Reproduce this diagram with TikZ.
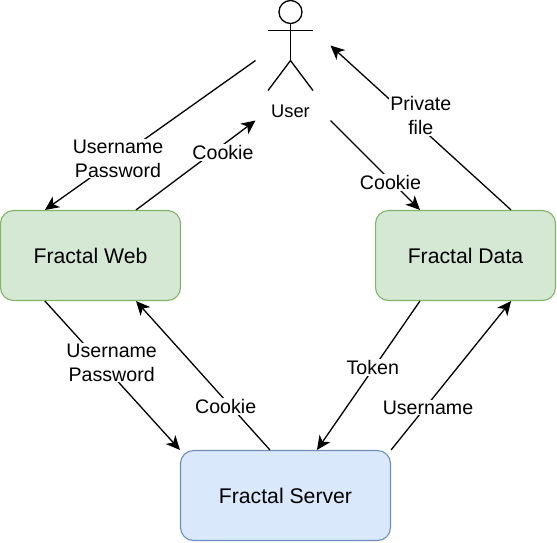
\documentclass[tikz,border=0pt]{standalone}
\usepackage{fontspec}
\setmainfont{Liberation Sans}
\usetikzlibrary{arrows.meta}
\definecolor{greenfill}{HTML}{D5E8D4}
\definecolor{greenline}{HTML}{82B366}
\definecolor{bluefill}{HTML}{DAE8FC}
\definecolor{blueline}{HTML}{6C8EBF}
\tikzset{
  flow/.style={line width=1.3pt, -{Stealth[length=14pt,width=13pt,inset=4pt]}},
  greenbox/.style={draw=greenline, fill=greenfill, line width=1.1pt, rounded corners=13pt, minimum width=180pt, minimum height=90pt, inner sep=0pt, font=\fontsize{21.2}{25}\selectfont},
  bluebox/.style={greenbox, draw=blueline, fill=bluefill, minimum width=210pt},
  lbl/.style={fill=white, inner sep=1pt, align=center, font=\fontsize{19.6}{23.7}\selectfont},
  actorline/.style={line width=1.3pt}
}

\begin{document}
\begin{tikzpicture}[x=1pt,y=-1pt]
\useasboundingbox (0,0) rectangle (557,542);

% boxes
\node [greenbox] (web) at (90.5,255.5) {Fractal Web};
\node [greenbox] (data) at (465.5,255.5) {Fractal Data};
\node [bluebox] (server) at (285.5,495.5) {Fractal Server};

% user
\draw [actorline] (290.5,12) circle [radius=11.5];
\draw [actorline] (290.5,23.5) -- (290.5,60.5);
\draw [actorline] (268,30.5) -- (313,30.5);
\draw [actorline] (268,90.5) -- (290.5,60.5) -- (313,90.5);
\node [font=\fontsize{18.3}{22}\selectfont] (user) at (290.5,111) {User};

\coordinate (userA) at (255.5,60.5);
\coordinate (userB) at (255.5,120.5);
\coordinate (userC) at (330.5,120.5);
\coordinate (userD) at (330.5,45.5);

% connectors
\draw [flow] (userA) -- ([xshift=45pt]web.north west);
\draw [flow] ([xshift=-45pt]web.north east) -- (userB);
\draw [flow] (userC) -- ([xshift=45pt]data.north west);
\draw [flow] ([xshift=-45pt]data.north east) -- (userD);
\draw [flow] ([xshift=45pt]web.south west) -- (server.north west);
\draw [flow] ([xshift=90pt]server.north west) -- ([xshift=-45pt]web.south east);
\draw [flow] ([xshift=45pt]data.south west) -- ([xshift=137pt]server.north west);
\draw [flow] (server.north east) -- ([xshift=-45pt]data.south east);

% labels
\node [lbl] (loginA) at (118,158.5) {Username\\Password};
\node [lbl] (cookieA) at (223,152.5) {Cookie};
\node [lbl] (cookieB) at (390.5,182.5) {Cookie};
\node [lbl] (privfile) at (420.8,115.5) {Private\\file};
\node [lbl] (loginB) at (111.7,362.5) {Username\\Password};
\node [lbl] (cookieC) at (225.7,406.5) {Cookie};
\node [lbl] (token) at (372.8,367.5) {Token};
\node [lbl] (nameA) at (428,407.5) {Username};

\end{tikzpicture}
\end{document}
